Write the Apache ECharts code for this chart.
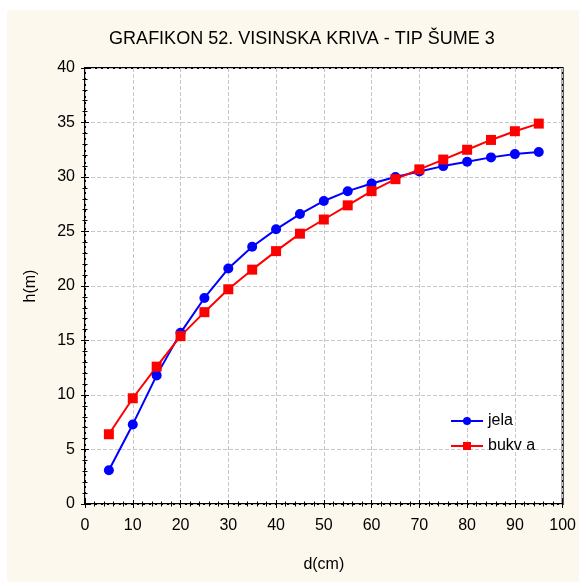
<!DOCTYPE html>
<html>
<head>
<meta charset="utf-8">
<script src="https://cdn.jsdelivr.net/npm/echarts@6/dist/echarts.min.js"></script>
<style>
  html, body { margin: 0; padding: 0; background: #fff; }
  #chart { width: 579px; height: 582px; }
</style>
</head>
<body>
<div id="chart"></div>
<script>
// d(cm) values
var diam = [5, 10, 15, 20, 25, 30, 35, 40, 45, 50, 55, 60, 65, 70, 75, 80, 85, 90, 95];
// h(m) - jela
var jela = [3.1, 7.3, 11.8, 15.7, 18.9, 21.6, 23.6, 25.2, 26.6, 27.8, 28.7, 29.4, 30.0, 30.5, 31.0, 31.4, 31.8, 32.1, 32.3];
// h(m) - bukva
var bukva = [6.4, 9.7, 12.6, 15.4, 17.6, 19.7, 21.5, 23.2, 24.8, 26.1, 27.4, 28.7, 29.8, 30.7, 31.6, 32.5, 33.4, 34.2, 34.9];

var font = "'Liberation Sans', Arial, sans-serif";

function pairs(ys) {
    return diam.map(function (d, i) { return [d, ys[i]]; });
}

var tickStyle = { color: '#000', width: 1 };

function axisBase(extra) {
    var a = {
        type: 'value',
        axisLine: { show: false },
        axisTick: { show: true, inside: true, length: 4, lineStyle: tickStyle },
        minorTick: { show: true, splitNumber: 5, length: 2.5, lineStyle: tickStyle },
        splitLine: { show: false },
        axisLabel: { show: false }
    };
    for (var k in extra) a[k] = extra[k];
    return a;
}

var chart = echarts.init(document.getElementById('chart'));
chart.setOption({
    backgroundColor: '#ffffff',
    animation: false,
    graphic: [{
        type: 'rect',
        z: -100,
        shape: { x: 7, y: 10, width: 572, height: 572 },
        style: { fill: '#fdf8ed' }
    }],
    title: {
        text: 'GRAFIKON 52. VISINSKA KRIVA - TIP ŠUME 3',
        left: 297,
        textAlign: 'center',
        top: 25,
        textStyle: { fontFamily: font, fontSize: 18, fontWeight: 'normal', color: '#000' }
    },
    legend: {
        orient: 'vertical',
        left: 445,
        top: 408,
        itemWidth: 32,
        itemHeight: 10,
        itemGap: 9,
        textStyle: { fontFamily: font, fontSize: 16, color: '#000' },
        data: ['jela', 'bukv a']
    },
    grid: {
        left: 85, top: 68, right: 13, bottom: 78,
        show: true,
        backgroundColor: '#fff',
        borderColor: '#000',
        borderWidth: 2
    },
    xAxis: [
        axisBase({
            position: 'bottom',
            min: 0, max: 100, interval: 10,
            name: 'd(cm)',
            nameLocation: 'middle',
            nameGap: 53,
            nameTextStyle: { fontFamily: font, fontSize: 16, color: '#000' },
            splitLine: { show: true, lineStyle: { color: '#c8c8c8', type: 'dashed', width: 1 } },
            axisLabel: { show: true, margin: 14, fontFamily: font, fontSize: 16, color: '#000' }
        }),
        axisBase({ position: 'top', min: 0, max: 100, interval: 10 })
    ],
    yAxis: [
        axisBase({
            position: 'left',
            min: 0, max: 40, interval: 5,
            name: 'h(m)',
            nameLocation: 'middle',
            nameGap: 46,
            nameTextStyle: { fontFamily: font, fontSize: 16, color: '#000' },
            splitLine: { show: true, lineStyle: { color: '#c8c8c8', type: 'dashed', width: 1 } },
            axisLabel: { show: true, margin: 10, fontFamily: font, fontSize: 16, color: '#000' }
        }),
        axisBase({ position: 'right', min: 0, max: 40, interval: 5 })
    ],
    series: [
        {
            name: 'jela',
            type: 'line',
            data: pairs(jela),
            symbol: 'circle',
            symbolSize: 10,
            color: '#0000ff',
            lineStyle: { width: 2, color: '#0000ff' },
            itemStyle: { color: '#0000ff' }
        },
        {
            name: 'bukv a',
            type: 'line',
            data: pairs(bukva),
            symbol: 'rect',
            symbolSize: 10,
            color: '#ff0000',
            lineStyle: { width: 2, color: '#ff0000' },
            itemStyle: { color: '#ff0000' }
        }
    ]
});
</script>
</body>
</html>
